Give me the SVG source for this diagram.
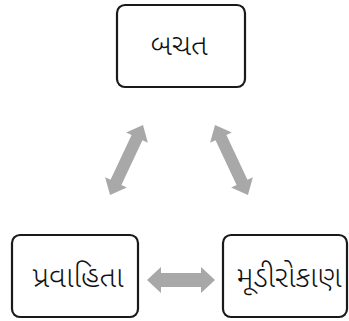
<svg xmlns="http://www.w3.org/2000/svg" width="349" height="321" viewBox="0 0 349 321">
<style>
.box{fill:#fff;stroke:#1a1a1a;stroke-width:2.2}
.lbl{font-family:"Noto Sans Gujarati","Noto Serif Gujarati","Lohit Gujarati","Noto Sans",sans-serif;font-size:30px;font-weight:300;fill:#111;text-anchor:middle}
.arr{fill:#a8a8a8}
</style>
<rect width="349" height="321" fill="#fff"/>
<g id="connectors">
<polygon class="arr" transform="translate(181,280)" points="-34,0 -20,-13 -20,-7 20,-7 20,-13 34,0 20,13 20,7 -20,7 -20,13"/>
<polygon class="arr" transform="translate(126.5,160) rotate(115.2)" points="-38.7,0 -24.7,-12 -24.7,-6 24.7,-6 24.7,-12 38.7,0 24.7,12 24.7,6 -24.7,6 -24.7,12"/>
<polygon class="arr" transform="translate(231.5,160) rotate(64.8)" points="-38.7,0 -24.7,-12 -24.7,-6 24.7,-6 24.7,-12 38.7,0 24.7,12 24.7,6 -24.7,6 -24.7,12"/>
</g>
<g id="node-bachat">
<rect class="box" x="117" y="5" width="128" height="82" rx="8"/>
<text class="lbl" x="179" y="55">બચત</text>
</g>
<g id="node-pravahita">
<rect class="box" x="12" y="235" width="126" height="82" rx="8"/>
<text class="lbl" x="78" y="287">પ્રવાહિતા</text>
</g>
<g id="node-mudirokan">
<rect class="box" x="223" y="235" width="124" height="82" rx="8"/>
<text class="lbl" x="289" y="287">મૂડીરોકાણ</text>
</g>
</svg>
